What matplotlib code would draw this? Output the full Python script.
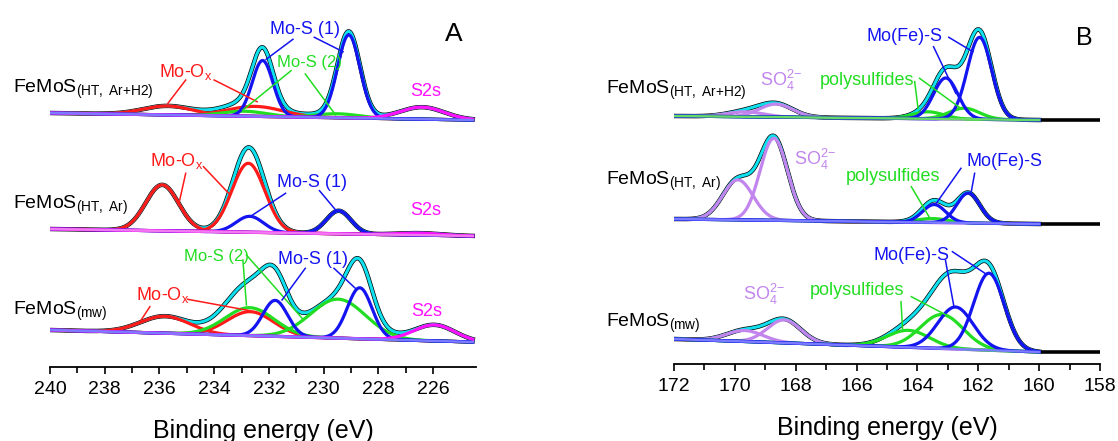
import numpy as np
import matplotlib
matplotlib.use("Agg")
import matplotlib.pyplot as plt

plt.rcParams['font.family'] = ['Liberation Sans', 'DejaVu Sans']
plt.rcParams['mathtext.fontset'] = 'custom'
plt.rcParams['mathtext.rm'] = 'Liberation Sans'
plt.rcParams['mathtext.it'] = 'Liberation Sans:italic'
plt.rcParams['mathtext.bf'] = 'Liberation Sans:bold'

# ---------------- Panel A : Mo 3d / S 2s ----------------
A_range = (240.0, 224.55)
A_ticks = [240, 238, 236, 234, 232, 230, 228, 226]
A_samples = [r"FeMoS$_\mathrm{(HT,\ Ar{+}H2)}$", r"FeMoS$_\mathrm{(HT,\ Ar)}$", r"FeMoS$_\mathrm{(mw)}$"]
A_base_left = [253, 137, 36]
A_base_right = [246, 130, 24]
A_MoOx_pos = [[235.7, 232.5], [235.9, 232.75], [235.8, 232.68]]
A_MoOx_amp = [[9, 10], [46, 69], [17, 24]]
A_MoOx_sig = [[0.9, 1.0], [0.6, 0.6], [0.9, 0.85]]
A_MoS1_pos = [[232.23, 229.08], [232.7, 229.45], [231.77, 228.68]]
A_MoS1_amp = [[56, 83], [16, 23], [36, 51]]
A_MoS1_sig = [[0.38, 0.41], [0.5, 0.45], [0.45, 0.45]]
A_MoS2_pos = [[232.9, 229.5], [], [232.7, 229.47]]
A_MoS2_amp = [[5, 4], [], [28, 39]]
A_MoS2_sig = [[0.8, 0.8], [], [0.9, 1.0]]
A_S2s_pos = [[226.4], [226.5], [225.95]]
A_S2s_amp = [[12], [2], [16]]
A_S2s_sig = [[0.8], [0.8], [0.75]]

# ---------------- Panel B : S 2p ----------------
B_range = (172.0, 158.0)
B_fit_end = 160.0
B_ticks = [172, 170, 168, 166, 164, 162, 160, 158]
B_samples = A_samples
B_base_left = [250, 147, 27]
B_base_right = [246, 142, 14]
B_SO4_pos = [[169.66, 168.65], [169.9, 168.72], [169.67, 168.38]]
B_SO4_amp = [[5, 13], [40, 82], [11, 23]]
B_SO4_sig = [[0.6, 0.55], [0.5, 0.45], [0.6, 0.55]]
B_poly_pos = [[163.65, 162.46], [163.5], [164.3, 163.2]]
B_poly_amp = [[7, 11], [4], [17, 34]]
B_poly_sig = [[0.5, 0.5], [0.5], [0.7, 0.7]]
B_MoFeS_pos = [[163.07, 161.96], [163.45, 162.33], [162.75, 161.65]]
B_MoFeS_amp = [[41, 82], [18, 30], [42, 77]]
B_MoFeS_sig = [[0.4, 0.4], [0.38, 0.38], [0.58, 0.5]]

RED = '#ff1a1a'
BLUE = '#1414f0'
GREEN = '#22dd22'
MAGENTA = '#ff10ff'
PURPLE = '#c285ee'
CYAN = '#10e0ee'
BLACK = '#000000'


def gauss(x, c, a, s):
    return a * np.exp(-0.5 * ((x - c) / s) ** 2)


def baseline(x, x0, x1, y0, y1):
    return y0 + (y1 - y0) * (x0 - x) / (x0 - x1)


W, H = 1118, 441
fig = plt.figure(figsize=(W / 100, H / 100), dpi=100)
axA = fig.add_axes([50 / W, 1 - 367 / H, 426 / W, 367 / H])
axB = fig.add_axes([674 / W, 1 - 364 / H, 426 / W, 364 / H])
axA.set_xlim(240, 224.43)
axA.set_ylim(-1, 366)
axB.set_xlim(172, 158)
axB.set_ylim(2, 366)

for ax, ticks in ((axA, A_ticks), (axB, B_ticks)):
    for side in ('left', 'right', 'top'):
        ax.spines[side].set_visible(False)
    ax.spines['bottom'].set_linewidth(1.3)
    ax.set_yticks([])
    ax.set_xticks(ticks)
    ax.set_xticks(np.arange(min(ticks) + 1, max(ticks), 2), minor=True)
    ax.tick_params(axis='x', which='major', direction='out', length=5, width=1.2,
                   labelsize=14, pad=5)
    ax.tick_params(axis='x', which='minor', direction='out', length=4, width=1.2)
    ax.set_xlabel('Binding energy (eV)', fontsize=18, labelpad=15)
    ax.patch.set_alpha(0)

# ---- draw panel A ----
xa = np.linspace(A_range[0], A_range[1], 800)
A_base_colors = ['#7b7bff', '#f07af0', '#7b7bff']
for i in range(3):
    bl = baseline(xa, A_range[0], A_range[1], A_base_left[i], A_base_right[i])
    comps = []
    for pos, amp, sig, col in ((A_MoOx_pos, A_MoOx_amp, A_MoOx_sig, RED),
                               (A_MoS2_pos, A_MoS2_amp, A_MoS2_sig, GREEN),
                               (A_MoS1_pos, A_MoS1_amp, A_MoS1_sig, BLUE),
                               (A_S2s_pos, A_S2s_amp, A_S2s_sig, MAGENTA)):
        for c, a, s in zip(pos[i], amp[i], sig[i]):
            comps.append((gauss(xa, c, a, s), col))
    env = bl + sum(g for g, _ in comps)
    axA.plot(xa, env, color=BLACK, lw=3.2, zorder=2)
    axA.plot(xa, env, color=CYAN, lw=2.2, zorder=3)
    for g, col in comps:
        axA.plot(xa, bl + g, color=col, lw=2.3, zorder=4)
    axA.plot(xa, bl, color=A_base_colors[i], lw=1.8, zorder=5)

# ---- draw panel B ----
xb = np.linspace(B_range[0], B_fit_end, 800)
xb_tail = np.linspace(B_fit_end, B_range[1], 120)
B_base_colors = ['#66d966', '#7b7bff', '#7b7bff']
for i in range(3):
    bl = baseline(xb, B_range[0], B_fit_end, B_base_left[i], B_base_right[i])
    comps = []
    for pos, amp, sig, col in ((B_SO4_pos, B_SO4_amp, B_SO4_sig, PURPLE),
                               (B_poly_pos, B_poly_amp, B_poly_sig, GREEN),
                               (B_MoFeS_pos, B_MoFeS_amp, B_MoFeS_sig, BLUE)):
        for c, a, s in zip(pos[i], amp[i], sig[i]):
            comps.append((gauss(xb, c, a, s), col))
    env = bl + sum(g for g, _ in comps)
    tail = np.full_like(xb_tail, B_base_right[i])
    axB.plot(xb, env, color=BLACK, lw=3.2, zorder=2)
    axB.plot(xb_tail, tail, color=BLACK, lw=2.6, zorder=2)
    axB.plot(xb, env, color=CYAN, lw=2.2, zorder=3)
    for g, col in comps:
        axB.plot(xb, bl + g, color=col, lw=2.3, zorder=4)
    axB.plot(xb, bl, color=B_base_colors[i], lw=1.8, zorder=5)


def label(ax, x, yc, s, color, fs=13):
    cap = fs * 100 / 72 * 0.716
    ax.text(x, yc - cap / 2, s, color=color, fontsize=fs, ha='left', va='baseline',
            clip_on=False, zorder=6)


def leader(ax, x0, y0, x1, y1, color):
    ax.plot([x0, x1], [y0, y1], color=color, lw=1.1, zorder=6, clip_on=False)


MOOX = r"Mo-O$_\mathrm{x}$"
SO4 = r"SO$_4^{2\mathrm{-}}$"

# ---- panel A labels ----
for yc, s in zip([280, 164.3, 57.7], A_samples):
    label(axA, 241.34, yc, s, BLACK, fs=14)
label(axA, 225.58, 334, 'A', BLACK, fs=19)
# top
label(axA, 236.02, 295, MOOX, RED)
leader(axA, 235.04, 286, 235.69, 262.7, RED)
leader(axA, 234.0, 286, 232.43, 264.3, RED)
label(axA, 231.97, 338, 'Mo-S (1)', BLUE)
leader(axA, 231.12, 326.7, 232.1, 306.7, BLUE)
leader(axA, 230.34, 328.7, 229.29, 314.3, BLUE)
label(axA, 231.71, 305, 'Mo-S (2)', GREEN, fs=12)
leader(axA, 231.19, 295.3, 232.95, 256, GREEN)
leader(axA, 230.67, 292, 229.56, 251, GREEN)
label(axA, 226.82, 276, 'S2s', MAGENTA)
# middle
label(axA, 236.35, 206.7, MOOX, RED)
leader(axA, 235.04, 192.7, 235.3, 161, RED)
leader(axA, 234.39, 199.3, 233.47, 172.7, RED)
label(axA, 231.71, 185.3, 'Mo-S (1)', BLUE)
leader(axA, 231.39, 172.7, 232.69, 149.3, BLUE)
leader(axA, 230.15, 175.3, 229.56, 156, BLUE)
label(axA, 226.82, 157.7, 'S2s', MAGENTA)
# bottom
label(axA, 236.87, 72.7, MOOX, RED)
leader(axA, 236.35, 59.3, 236.67, 46, RED)
leader(axA, 234.97, 66.7, 232.69, 55.3, RED)
label(axA, 235.11, 111, 'Mo-S (2)', GREEN, fs=12)
leader(axA, 232.95, 106, 232.82, 61, GREEN)
leader(axA, 232.82, 111, 230.73, 46, GREEN)
label(axA, 231.65, 108.7, 'Mo-S (1)', BLUE)
leader(axA, 230.67, 97.7, 231.52, 66, BLUE)
leader(axA, 229.62, 97.7, 228.84, 77.7, BLUE)
label(axA, 226.81, 56, 'S2s', MAGENTA)

# ---- panel B labels ----
for yc, s in zip([279.3, 187.7, 46], B_samples):
    label(axB, 174.24, yc, s, BLACK, fs=14)
label(axB, 158.79, 330, 'B', BLACK, fs=18)
# top
label(axB, 169.17, 286, SO4, PURPLE)
label(axB, 167.2, 287.7, 'polysulfides', GREEN)
leader(axB, 164.09, 284.3, 163.98, 257.7, GREEN)
leader(axB, 163.93, 287.7, 162.58, 257.7, GREEN)
label(axB, 165.67, 331, 'Mo(Fe)-S', BLUE)
leader(axB, 163.47, 319.3, 162.74, 272.7, BLUE)
leader(axB, 162.97, 328.7, 162.18, 314.3, BLUE)
# middle
label(axB, 168.04, 207.7, SO4, PURPLE)
label(axB, 166.35, 191, 'polysulfides', GREEN)
leader(axB, 164.2, 179.3, 163.59, 147.7, GREEN)
label(axB, 162.4, 206, 'Mo(Fe)-S', BLUE)
leader(axB, 162.57, 197.7, 163.42, 161, BLUE)
leader(axB, 162.12, 192.7, 162.23, 174.3, BLUE)
# bottom
label(axB, 169.73, 72.7, SO4, PURPLE)
label(axB, 167.54, 77.7, 'polysulfides', GREEN)
leader(axB, 164.54, 64.3, 164.49, 37.7, GREEN)
leader(axB, 164.2, 69.3, 162.85, 47.7, GREEN)
label(axB, 165.45, 112.7, 'Mo(Fe)-S', BLUE)
leader(axB, 163.08, 106, 162.8, 59.3, BLUE)
leader(axB, 162.85, 114.3, 161.78, 92.7, BLUE)

fig.savefig('out.png', dpi=100)
